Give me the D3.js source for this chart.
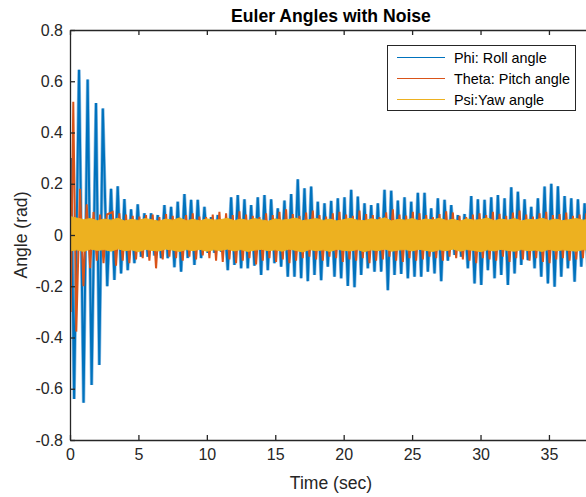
<!DOCTYPE html>
<html>
<head>
<meta charset="utf-8">
<script src="https://cdn.jsdelivr.net/npm/d3@7"></script>
<style>
  body { margin: 0; background: #fff; }
  svg { display: block; font-family: "Liberation Sans", Arial, Helvetica, sans-serif; }
</style>
</head>
<body>
<div id="chart"></div>
<script>
// x ticks (sec) and y ticks (rad)
const xTicks = [0, 5, 10, 15, 20, 25, 30, 35];
const yTicks = [-0.8, -0.6, -0.4, -0.2, 0, 0.2, 0.4, 0.6, 0.8];

// Phi: the start-up transient, read point by point
const phiEarlyT = [0, 0.08, 0.3, 0.66, 0.99, 1.29, 1.58, 1.9, 2.14, 2.4, 2.72];
const phiEarlyV = [0, 0.30, -0.64, 0.645, -0.655, 0.607, -0.585, 0.515, -0.507, 0.494, -0.20];

// Phi: steady oscillation, peak and trough of each cycle (~0.49 s period from t = 3 s)
const phiUp = [0.18, 0.19, 0.14, 0.10, 0.12, 0.085, 0.085, 0.078, 0.117, 0.11,
  0.13, 0.16, 0.137, 0.137, 0.11, 0.07, 0.078, 0.06, 0.147, 0.156,
  0.139, 0.117, 0.147, 0.156, 0.139, 0.104, 0.134, 0.16, 0.217, 0.182,
  0.189, 0.13, 0.124, 0.133, 0.143, 0.147, 0.176, 0.15, 0.124, 0.117,
  0.124, 0.176, 0.173, 0.134, 0.147, 0.13, 0.165, 0.165, 0.104, 0.143,
  0.137, 0.117, 0.078, 0.082, 0.152, 0.139, 0.137, 0.147, 0.156, 0.143,
  0.186, 0.169, 0.139, 0.11, 0.143, 0.189, 0.2, 0.19, 0.152, 0.143,
  0.139, 0.124];
const phiDown = [-0.175, -0.15, -0.137, -0.11, -0.085, -0.085, -0.08, -0.09, -0.09, -0.126,
  -0.143, -0.09, -0.117, -0.09, -0.07, -0.07, -0.065, -0.137, -0.117, -0.13,
  -0.13, -0.12, -0.156, -0.137, -0.11, -0.124, -0.163, -0.163, -0.169, -0.18,
  -0.156, -0.176, -0.124, -0.163, -0.169, -0.199, -0.204, -0.156, -0.13, -0.143,
  -0.143, -0.215, -0.156, -0.152, -0.169, -0.163, -0.163, -0.143, -0.15, -0.18,
  -0.10, -0.078, -0.085, -0.13, -0.189, -0.195, -0.137, -0.169, -0.156, -0.195,
  -0.15, -0.117, -0.098, -0.13, -0.163, -0.189, -0.202, -0.163, -0.13, -0.182,
  -0.124, -0.15];

// Theta: transient, then the spikes that show past the Psi band
const thetaEarlyT = [0, 0.05, 0.24, 0.46, 0.73, 0.98, 1.22, 1.47, 1.72, 1.96, 2.2, 2.45, 2.7];
const thetaEarlyV = [0, -0.30, 0.52, -0.377, 0.18, -0.20, 0.12, -0.13, 0.09, -0.10, 0.08, -0.11, 0.08];
const thetaUp = [0.09, 0.085, 0.08, 0.075, 0.072, 0.078, 0.08, 0.07, 0.082, 0.075,
  0.068, 0.078, 0.085, 0.072, 0.07, 0.08, 0.09, 0.085, 0.078, 0.092,
  0.08, 0.075, 0.07, 0.085, 0.078, 0.09, 0.1, 0.082, 0.075, 0.088,
  0.095, 0.078, 0.072, 0.085, 0.09, 0.08, 0.075, 0.095, 0.082, 0.078,
  0.07, 0.088, 0.1, 0.08, 0.076, 0.09, 0.085, 0.078, 0.07, 0.082,
  0.092, 0.088, 0.075, 0.07, 0.08, 0.085, 0.078, 0.09, 0.083, 0.075,
  0.088, 0.095, 0.08, 0.072, 0.085, 0.09, 0.078, 0.082, 0.088, 0.075,
  0.08, 0.085];
const thetaDown = [-0.12, -0.1, -0.11, -0.095, -0.09, -0.1, -0.13, -0.095, -0.085, -0.09,
  -0.1, -0.085, -0.095, -0.08, -0.09, -0.1, -0.105, -0.095, -0.11, -0.1,
  -0.09, -0.115, -0.1, -0.09, -0.105, -0.095, -0.11, -0.1, -0.09, -0.085,
  -0.095, -0.1, -0.085, -0.09, -0.105, -0.095, -0.1, -0.09, -0.11, -0.1,
  -0.095, -0.085, -0.1, -0.105, -0.09, -0.1, -0.095, -0.085, -0.09, -0.1,
  -0.085, -0.09, -0.095, -0.1, -0.11, -0.09, -0.095, -0.1, -0.085, -0.105,
  -0.09, -0.095, -0.1, -0.09, -0.105, -0.11, -0.095, -0.09, -0.1, -0.095,
  -0.09, -0.1];

// Psi: upper and lower edge of the noise band, every 0.5 s
const psiUp = [0.072, 0.066, 0.06, 0.064, 0.056, 0.062, 0.058, 0.065, 0.055, 0.061,
  0.057, 0.064, 0.059, 0.054, 0.062, 0.058, 0.066, 0.056, 0.061, 0.055,
  0.063, 0.058, 0.06, 0.065, 0.056, 0.062, 0.057, 0.064, 0.059, 0.054,
  0.063, 0.058, 0.061, 0.066, 0.056, 0.06, 0.064, 0.057, 0.062, 0.055,
  0.06, 0.065, 0.058, 0.056, 0.063, 0.059, 0.067, 0.055, 0.061, 0.058,
  0.064, 0.056, 0.062, 0.059, 0.065, 0.057, 0.061, 0.054, 0.063, 0.058,
  0.06, 0.066, 0.056, 0.062, 0.058, 0.064, 0.055, 0.061, 0.059, 0.065,
  0.057, 0.062, 0.056, 0.06, 0.064, 0.058, 0.061];
const psiDown = [-0.062, -0.058, -0.064, -0.055, -0.06, -0.057, -0.063, -0.054, -0.061, -0.058,
  -0.065, -0.056, -0.06, -0.062, -0.055, -0.059, -0.064, -0.057, -0.061, -0.056,
  -0.063, -0.058, -0.06, -0.055, -0.062, -0.057, -0.064, -0.059, -0.056, -0.061,
  -0.058, -0.063, -0.055, -0.06, -0.066, -0.057, -0.061, -0.058, -0.064, -0.056,
  -0.06, -0.062, -0.057, -0.065, -0.058, -0.061, -0.055, -0.063, -0.059, -0.057,
  -0.062, -0.056, -0.06, -0.064, -0.058, -0.061, -0.055, -0.063, -0.057, -0.06,
  -0.065, -0.058, -0.062, -0.056, -0.06, -0.063, -0.057, -0.061, -0.059, -0.064,
  -0.056, -0.062, -0.058, -0.06, -0.063, -0.057, -0.061];

const seriesNames = ['Phi: Roll angle', 'Theta: Pitch angle', 'Psi:Yaw angle'];
const seriesColors = ['#0072BD', '#D95319', '#EDB120'];

// sample timing of the steady part
const steadyStart = 3.0;
const halfPeriod = 0.2437;
const psiStep = 0.5;

class NoisePlot {
  constructor(_config) {
    this.config = {
      parentElement: _config.parentElement,
      containerWidth: _config.containerWidth || 586,
      containerHeight: _config.containerHeight || 497,
      plot: { left: 70, right: 590, top: 30, bottom: 440 }
    };
    this.initVis();
  }

  initVis() {
    let vis = this;
    const p = vis.config.plot;

    vis.svg = d3.select(vis.config.parentElement).append('svg')
      .attr('width', vis.config.containerWidth)
      .attr('height', vis.config.containerHeight);

    vis.x = d3.scaleLinear().domain([0, 38]).range([p.left, p.right]);
    vis.y = d3.scaleLinear().domain([-0.8, 0.8]).range([p.bottom, p.top]);

    vis.svg.append('clipPath').attr('id', 'plot-clip')
      .append('rect')
      .attr('x', p.left).attr('y', p.top)
      .attr('width', p.right - p.left).attr('height', p.bottom - p.top);

    vis.g = vis.svg.append('g').attr('clip-path', 'url(#plot-clip)');

    // build the point lists
    vis.phi = phiEarlyT.map((t, i) => ({ t: t, v: phiEarlyV[i] }));
    phiUp.forEach((v, k) => {
      vis.phi.push({ t: steadyStart + 2 * k * halfPeriod, v: v });
      vis.phi.push({ t: steadyStart + (2 * k + 1) * halfPeriod, v: phiDown[k] });
    });

    vis.theta = thetaEarlyT.map((t, i) => ({ t: t, v: thetaEarlyV[i] }));
    thetaUp.forEach((v, k) => {
      vis.theta.push({ t: steadyStart + 0.12 + 2 * k * halfPeriod, v: v });
      vis.theta.push({ t: steadyStart + 0.12 + (2 * k + 1) * halfPeriod, v: thetaDown[k] });
    });

    vis.psi = psiUp.map((v, i) => ({ t: i * psiStep, hi: v, lo: psiDown[i] }));

    vis.renderVis();
  }

  renderVis() {
    let vis = this;
    const p = vis.config.plot;

    const line = d3.line().x(d => vis.x(d.t)).y(d => vis.y(d.v));

    // Phi, soft halo first so the spikes look noisy-thick
    vis.g.append('path').datum(vis.phi)
      .attr('d', line)
      .attr('fill', 'none')
      .attr('stroke', '#8dbde3')
      .attr('stroke-width', 3.4);
    vis.g.append('path').datum(vis.phi)
      .attr('d', line)
      .attr('fill', 'none')
      .attr('stroke', seriesColors[0])
      .attr('stroke-width', 2);

    vis.g.append('path').datum(vis.theta)
      .attr('d', line)
      .attr('fill', 'none')
      .attr('stroke', seriesColors[1])
      .attr('stroke-width', 2);

    const area = d3.area()
      .x(d => vis.x(d.t))
      .y0(d => vis.y(d.lo))
      .y1(d => vis.y(d.hi));
    vis.g.append('path').datum(vis.psi)
      .attr('d', area)
      .attr('fill', seriesColors[2])
      .attr('stroke', seriesColors[2])
      .attr('stroke-width', 1);

    // axes, ticks pointing in (MATLAB look); the right side of the box is cut off
    const axisColor = '#262626';
    const xAxis = d3.axisBottom(vis.x).tickValues(xTicks).tickSizeInner(-5).tickSizeOuter(0).tickPadding(9);
    const yAxis = d3.axisLeft(vis.y).tickValues(yTicks).tickSizeInner(-5).tickSizeOuter(0).tickPadding(7)
      .tickFormat(d => d === 0 ? '0' : d.toFixed(1));

    const gx = vis.svg.append('g').attr('transform', `translate(0,${p.bottom})`).call(xAxis);
    const gy = vis.svg.append('g').attr('transform', `translate(${p.left},0)`).call(yAxis);
    const gxTop = vis.svg.append('g').attr('transform', `translate(0,${p.top})`)
      .call(d3.axisTop(vis.x).tickValues(xTicks).tickSizeInner(-5).tickSizeOuter(0).tickFormat(''));

    [gx, gy, gxTop].forEach(a => {
      a.select('.domain').attr('stroke', axisColor).attr('stroke-width', 1.3);
      a.selectAll('.tick line').attr('stroke', axisColor).attr('stroke-width', 1.3);
      a.selectAll('.tick text').attr('fill', axisColor).attr('font-size', 16)
        .attr('font-family', '"Liberation Sans", Arial, sans-serif');
    });

    vis.svg.append('text')
      .attr('x', 331).attr('y', 21.5)
      .attr('text-anchor', 'middle')
      .attr('font-size', 17.6).attr('font-weight', 'bold')
      .attr('fill', '#000')
      .text('Euler Angles with Noise');

    vis.svg.append('text')
      .attr('x', 331).attr('y', 489)
      .attr('text-anchor', 'middle')
      .attr('font-size', 17.6)
      .attr('fill', axisColor)
      .text('Time (sec)');

    vis.svg.append('text')
      .attr('transform', `translate(27,${vis.y(0)}) rotate(-90)`)
      .attr('text-anchor', 'middle')
      .attr('font-size', 17.6)
      .attr('fill', axisColor)
      .text('Angle (rad)');

    // legend
    const lg = vis.svg.append('g');
    lg.append('rect')
      .attr('x', 387.5).attr('y', 45.5).attr('width', 188).attr('height', 65)
      .attr('fill', '#fff').attr('stroke', axisColor).attr('stroke-width', 1);
    const rows = lg.selectAll('g.row').data(seriesNames).join('g')
      .attr('class', 'row')
      .attr('transform', (d, i) => `translate(0,${57.5 + i * 21})`);
    rows.append('line')
      .attr('x1', 397).attr('x2', 445)
      .attr('stroke', (d, i) => seriesColors[i]).attr('stroke-width', 1);
    rows.append('text')
      .attr('x', 454).attr('dy', '0.35em')
      .attr('font-size', 14.4).attr('fill', '#000')
      .text(d => d);
  }
}

new NoisePlot({ parentElement: '#chart' });
</script>
</body>
</html>
